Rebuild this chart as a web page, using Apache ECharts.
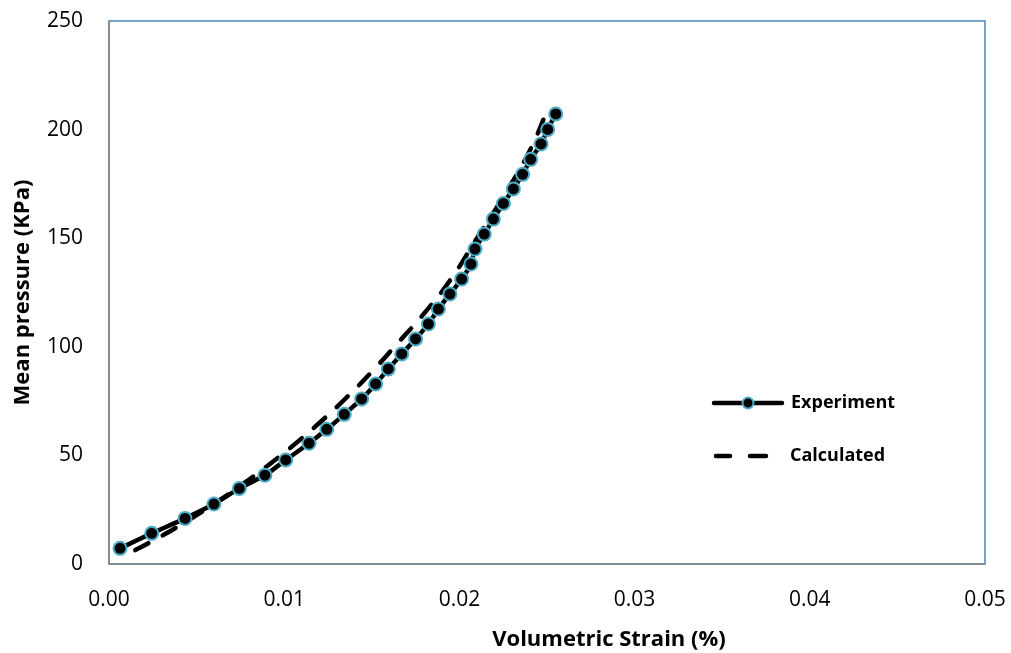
<!DOCTYPE html>
<html>
<head>
<meta charset="utf-8">
<script src="https://cdn.jsdelivr.net/npm/echarts@6/dist/echarts.min.js"></script>
<style>html,body{margin:0;padding:0;background:#fff}#c{width:1011px;height:653px}</style>
</head>
<body>
<div id="c"></div>
<script>
// Experiment: volumetric strain (%) and mean pressure (KPa)
var expStrain = [0.00063, 0.00244, 0.00434, 0.00599, 0.00744, 0.00890, 0.01009, 0.01142, 0.01243, 0.01343,
                 0.01442, 0.01522, 0.01594, 0.01671, 0.01750, 0.01823, 0.01880, 0.01946, 0.02013, 0.02066,
                 0.02089, 0.02142, 0.02194, 0.02251, 0.02308, 0.02361, 0.02407, 0.02466, 0.02504, 0.02550];
var expPressure = [7.2, 14.1, 21.0, 27.6, 34.8, 40.9, 47.9, 55.6, 62.0, 68.9,
                   76.0, 82.9, 89.8, 96.7, 103.6, 110.5, 117.4, 124.3, 131.2, 138.1,
                   145.0, 151.9, 158.8, 166.0, 172.7, 179.4, 186.3, 193.4, 200.1, 207.2];
// Calculated curve
var calcStrain = [0.0015, 0.0030, 0.0045, 0.0060, 0.0075, 0.0090, 0.0105, 0.0120, 0.0135, 0.0150,
                  0.0165, 0.0180, 0.0195, 0.0210, 0.0225, 0.0240, 0.0249];
var calcPressure = [6.4, 12.9, 20.0, 27.7, 36.0, 44.9, 54.5, 64.9, 76.2, 88.5,
                    101.9, 115.5, 131.0, 150.0, 169.0, 190.0, 207.0];
var seriesNames = ['Experiment', 'Calculated'];
var xTitle = 'Volumetric Strain (%)';
var yTitle = 'Mean pressure (KPa)';

function zip(a, b) { return a.map(function (v, i) { return [v, b[i]]; }); }

var FONT = '"Open Sans"';
var LINE_W = 4.5;
var MARK = {fill: '#000', stroke: '#4bacc6', lineWidth: 2};
var legendText = {fontFamily: FONT, fontWeight: 'bold', fontSize: 18, fill: '#000'};

var chart = echarts.init(document.getElementById('c'), null, {renderer: 'canvas'});
chart.setOption({
  animation: false,
  backgroundColor: '#fff',
  textStyle: {fontFamily: FONT},
  grid: {left: 109, top: 21, right: 26, bottom: 89, outerBoundsMode: 'none', containLabel: false,
         show: true, borderColor: '#4f81bd', borderWidth: 1.5, backgroundColor: 'transparent'},
  graphic: [
    // legend: Experiment
    {type: 'line', shape: {x1: 714, y1: 403, x2: 782, y2: 403}, style: {stroke: '#000', lineWidth: LINE_W, lineCap: 'round'}},
    {type: 'circle', shape: {cx: 748, cy: 403, r: 5.5}, style: MARK},
    {type: 'text', left: 791, top: 394, style: echarts.util.extend({text: seriesNames[0]}, legendText)},
    // legend: Calculated
    {type: 'line', shape: {x1: 716, y1: 456, x2: 730, y2: 456}, style: {stroke: '#000', lineWidth: LINE_W, lineCap: 'round'}},
    {type: 'line', shape: {x1: 750, y1: 456, x2: 766, y2: 456}, style: {stroke: '#000', lineWidth: LINE_W, lineCap: 'round'}},
    {type: 'text', left: 790, top: 447, style: echarts.util.extend({text: seriesNames[1]}, legendText)}
  ],
  xAxis: {
    type: 'value', min: 0, max: 0.05, interval: 0.01,
    name: xTitle, nameLocation: 'middle', nameGap: 65,
    nameTextStyle: {fontFamily: FONT, fontWeight: 'bold', fontSize: 22, color: '#000', padding: [0, 0, 0, 124]},
    axisLine: {show: true, lineStyle: {color: '#868686', width: 1.5}},
    axisTick: {show: false},
    splitLine: {show: false},
    axisLabel: {margin: 26, fontSize: 21, color: '#000', fontFamily: FONT,
      formatter: function (v) { return v.toFixed(2); }}
  },
  yAxis: {
    type: 'value', min: 0, max: 250, interval: 50,
    name: yTitle, nameLocation: 'middle', nameGap: 75, nameRotate: 90,
    nameTextStyle: {fontFamily: FONT, fontWeight: 'bold', fontSize: 22, color: '#000'},
    axisLine: {show: true, lineStyle: {color: '#868686', width: 1.5}},
    axisTick: {show: false},
    splitLine: {show: false},
    axisLabel: {margin: 26, fontSize: 21, color: '#000', fontFamily: FONT}
  },
  series: [
    {
      name: seriesNames[0], type: 'line', data: zip(expStrain, expPressure),
      smooth: 0.3, symbol: 'circle', symbolSize: 13, z: 3,
      lineStyle: {color: '#000', width: LINE_W},
      itemStyle: {color: '#000', borderColor: '#4bacc6', borderWidth: 2}
    },
    {
      name: seriesNames[1], type: 'line', data: zip(calcStrain, calcPressure),
      smooth: true, symbol: 'none', z: 2,
      lineStyle: {color: '#000', width: LINE_W, type: [15, 16], cap: 'round'},
      itemStyle: {color: '#000'}
    }
  ]
});
</script>
</body>
</html>
